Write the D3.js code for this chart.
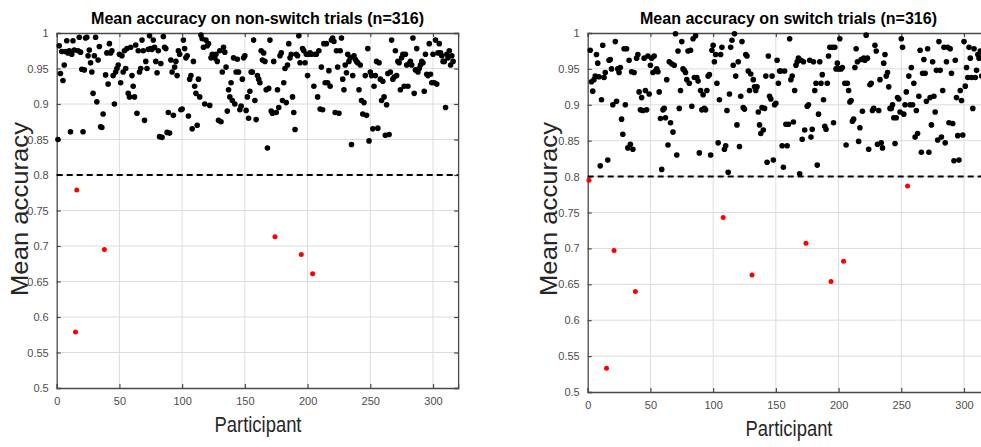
<!DOCTYPE html>
<html>
<head>
<meta charset="utf-8">
<script src="https://cdn.jsdelivr.net/npm/d3@7"></script>
<style>
  body { margin: 0; background: #fff; }
  svg { display: block; font-family: "Liberation Sans", Arial, sans-serif; }
</style>
</head>
<body>
<svg id="chart" width="981" height="447"></svg>
<script>
// mean accuracy per participant (index 1..316)
var nonSwitchAcc = [
  0.850, 0.982, 0.943, 0.974, 0.933, 0.955, 0.974, 0.989, 0.972, 0.975,
  0.861, 0.970, 0.989, 0.976, 0.579, 0.779, 0.975, 0.994, 0.973, 0.949,
  0.861, 0.948, 0.993, 0.994, 0.968, 0.976, 0.958, 0.945, 0.915, 0.968,
  0.994, 0.903, 0.962, 0.981, 0.868, 0.867, 0.886, 0.695, 0.941, 0.972,
  0.928, 0.985, 0.972, 0.975, 0.940, 0.900, 0.945, 0.950, 0.955, 0.970,
  0.930, 0.968, 0.945, 0.975, 0.950, 0.978, 0.915, 0.910, 0.980, 0.940,
  0.925, 0.910, 0.983, 0.887, 0.975, 0.945, 0.950, 0.990, 0.975, 0.877,
  0.960, 0.950, 0.977, 0.996, 0.978, 0.977, 0.990, 0.980, 0.960, 0.944,
  0.975, 0.854, 0.957, 0.853, 0.995, 0.980, 0.978, 0.860, 0.888, 0.859,
  0.962, 0.945, 0.884, 0.952, 0.960, 0.940, 0.975, 0.970, 0.892, 0.893,
  0.990, 0.978, 0.965, 0.968, 0.883, 0.935, 0.940, 0.865, 0.960, 0.925,
  0.915, 0.870, 0.935, 0.910, 0.997, 0.992, 0.980, 0.900, 0.990, 0.982,
  0.985, 0.898, 0.965, 0.970, 0.968, 0.965, 0.970, 0.960, 0.877, 0.975,
  0.875, 0.945, 0.980, 0.973, 0.952, 0.890, 0.920, 0.910, 0.930, 0.905,
  0.965, 0.900, 0.945, 0.963, 0.945, 0.892, 0.897, 0.935, 0.965, 0.968,
  0.891, 0.910, 0.880, 0.918, 0.945, 0.945, 0.990, 0.905, 0.878, 0.940,
  0.935, 0.930, 0.975, 0.962, 0.972, 0.960, 0.920, 0.838, 0.922, 0.990,
  0.890, 0.887, 0.960, 0.713, 0.888, 0.920, 0.895, 0.968, 0.972, 0.905,
  0.930, 0.950, 0.902, 0.955, 0.985, 0.965, 0.970, 0.910, 0.888, 0.864,
  0.970, 0.968, 0.996, 0.958, 0.688, 0.978, 0.975, 0.958, 0.970, 0.940,
  0.970, 0.972, 0.970, 0.661, 0.925, 0.970, 0.970, 0.910, 0.975, 0.893,
  0.952, 0.892, 0.985, 0.930, 0.985, 0.930, 0.947, 0.925, 0.990, 0.993,
  0.988, 0.888, 0.975, 0.952, 0.887, 0.975, 0.993, 0.935, 0.920, 0.955,
  0.944, 0.970, 0.960, 0.965, 0.843, 0.940, 0.968, 0.963, 0.960, 0.958,
  0.920, 0.955, 0.905, 0.886, 0.902, 0.940, 0.884, 0.978, 0.848, 0.945,
  0.940, 0.865, 0.925, 0.940, 0.960, 0.866, 0.958, 0.935, 0.905, 0.932,
  0.910, 0.856, 0.899, 0.943, 0.857, 0.945, 0.990, 0.935, 0.938, 0.975,
  0.940, 0.960, 0.958, 0.920, 0.965, 0.970, 0.925, 0.970, 0.955, 0.925,
  0.957, 0.960, 0.955, 0.993, 0.915, 0.948, 0.978, 0.945, 0.950, 0.955,
  0.960, 0.958, 0.918, 0.970, 0.942, 0.940, 0.985, 0.942, 0.930, 0.970,
  0.930, 0.990, 0.928, 0.972, 0.985, 0.972, 0.968, 0.960, 0.960, 0.895,
  0.970, 0.965, 0.975, 0.955, 0.968, 0.960
];

var switchAcc = [
  0.795, 0.976, 0.932, 0.919, 0.935, 0.940, 0.970, 0.958, 0.939, 0.815,
  0.907, 0.983, 0.938, 0.945, 0.533, 0.823, 0.962, 0.963, 0.950, 0.900,
  0.697, 0.988, 0.905, 0.950, 0.945, 0.952, 0.880, 0.859, 0.978, 0.900,
  0.978, 0.840, 0.962, 0.845, 0.946, 0.838, 0.945, 0.640, 0.965, 0.970,
  0.918, 0.893, 0.910, 0.892, 0.965, 0.920, 0.893, 0.968, 0.915, 0.955,
  0.965, 0.945, 0.968, 0.947, 0.950, 0.946, 0.918, 0.881, 0.810, 0.893,
  0.895, 0.882, 0.935, 0.844, 0.960, 0.875, 0.957, 0.862, 0.955, 0.999,
  0.830, 0.975, 0.895, 0.920, 0.988, 0.950, 0.948, 0.945, 0.935, 0.975,
  0.930, 0.976, 0.898, 0.992, 0.938, 0.996, 0.938, 0.933, 0.833, 0.920,
  0.893, 0.914, 0.895, 0.893, 0.920, 0.940, 0.942, 0.830, 0.976, 0.983,
  0.960, 0.970, 0.930, 0.847, 0.907, 0.970, 0.980, 0.743, 0.838, 0.843,
  0.892, 0.806, 0.915, 0.980, 0.990, 0.955, 0.999, 0.940, 0.872, 0.960,
  0.842, 0.912, 0.988, 0.896, 0.894, 0.970, 0.968, 0.947, 0.920, 0.943,
  0.663, 0.935, 0.925, 0.920, 0.925, 0.890, 0.872, 0.860, 0.896, 0.865,
  0.895, 0.940, 0.820, 0.968, 0.912, 0.908, 0.940, 0.823, 0.900, 0.902,
  0.962, 0.930, 0.947, 0.947, 0.843, 0.813, 0.947, 0.873, 0.843, 0.873,
  0.992, 0.935, 0.940, 0.876, 0.920, 0.955, 0.960, 0.965, 0.804, 0.962,
  0.852, 0.960, 0.865, 0.707, 0.898, 0.900, 0.962, 0.855, 0.866, 0.960,
  0.920, 0.930, 0.816, 0.887, 0.960, 0.930, 0.942, 0.907, 0.870, 0.866,
  0.930, 0.968, 0.980, 0.654, 0.980, 0.875, 0.980, 0.950, 0.958, 0.950,
  0.992, 0.950, 0.952, 0.682, 0.930, 0.844, 0.930, 0.920, 0.904, 0.906,
  0.877, 0.880, 0.952, 0.978, 0.960, 0.849, 0.868, 0.963, 0.891, 0.965,
  0.962, 0.997, 0.965, 0.838, 0.928, 0.930, 0.892, 0.895, 0.983, 0.975,
  0.845, 0.892, 0.935, 0.847, 0.840, 0.958, 0.970, 0.940, 0.945, 0.925,
  0.895, 0.895, 0.900, 0.882, 0.846, 0.882, 0.910, 0.908, 0.890, 0.992,
  0.980, 0.887, 0.900, 0.918, 0.787, 0.940, 0.900, 0.952, 0.900, 0.930,
  0.855, 0.892, 0.860, 0.912, 0.976, 0.834, 0.944, 0.963, 0.944, 0.905,
  0.978, 0.834, 0.910, 0.872, 0.960, 0.912, 0.890, 0.948, 0.851, 0.988,
  0.948, 0.855, 0.920, 0.980, 0.847, 0.960, 0.980, 0.875, 0.978, 0.944,
  0.874, 0.822, 0.962, 0.910, 0.857, 0.823, 0.920, 0.906, 0.858, 0.988,
  0.926, 0.952, 0.938, 0.980, 0.965, 0.938, 0.895, 0.978, 0.938, 0.948,
  0.970, 0.965, 0.975, 0.940, 0.968, 0.960
];

var xTickValues = [0, 50, 100, 150, 200, 250, 300];
var yTickValues = [0.5, 0.55, 0.6, 0.65, 0.7, 0.75, 0.8, 0.85, 0.9, 0.95, 1];
var yTickLabels = ["0.5", "0.55", "0.6", "0.65", "0.7", "0.75", "0.8", "0.85", "0.9", "0.95", "1"];
var cutoff = 0.8;

var svg = d3.select("#chart");

function drawPanel(opts) {
    var x = d3.scaleLinear().domain([0, 320]).range([opts.left, opts.left + 401.4]);
    var y = d3.scaleLinear().domain([0.5, 1]).range([opts.bottom, opts.top]);

    var g = svg.append("g");

    // grid
    g.append("g").selectAll("line")
        .data(xTickValues.slice(1))
        .enter().append("line")
        .attr("x1", d => x(d)).attr("x2", d => x(d))
        .attr("y1", opts.top).attr("y2", opts.bottom)
        .attr("stroke", "#dcdcdc").attr("stroke-width", 1);

    g.append("g").selectAll("line")
        .data(yTickValues.slice(1, -1))
        .enter().append("line")
        .attr("x1", x(0)).attr("x2", x(320))
        .attr("y1", d => y(d)).attr("y2", d => y(d))
        .attr("stroke", "#dcdcdc").attr("stroke-width", 1);

    // axes (MATLAB style: box, ticks pointing in)
    var xAxis = d3.axisBottom(x).tickValues(xTickValues).tickSize(-4).tickPadding(9);
    var xAxisTop = d3.axisTop(x).tickValues(xTickValues).tickSize(-4).tickFormat("");
    var yAxis = d3.axisLeft(y).tickValues(yTickValues).tickSize(-4).tickPadding(8)
        .tickFormat(function (d, i) { return yTickLabels[i]; });
    var yAxisRight = d3.axisRight(y).tickValues(yTickValues).tickSize(-4).tickFormat("");

    [
        [xAxis, "translate(0," + opts.bottom + ")"],
        [xAxisTop, "translate(0," + opts.top + ")"],
        [yAxis, "translate(" + opts.left + ",0)"],
        [yAxisRight, "translate(" + x(320) + ",0)"]
    ].forEach(function (a) {
        var ax = g.append("g").attr("transform", a[1]).call(a[0]);
        ax.select(".domain").attr("stroke", "#4a4a4a").attr("stroke-width", 1.3);
        ax.selectAll(".tick line").attr("stroke", "#4a4a4a").attr("stroke-width", 1.2);
        ax.selectAll("text")
            .attr("fill", "#4d4d4d")
            .attr("font-size", "11px")
            .attr("font-family", "Liberation Sans, Arial, sans-serif");
    });

    // cutoff line
    g.append("line")
        .attr("x1", x(0)).attr("x2", x(320))
        .attr("y1", y(cutoff)).attr("y2", y(cutoff))
        .attr("stroke", "#000").attr("stroke-width", 2)
        .attr("stroke-dasharray", "6,4");

    // points
    g.append("g").selectAll("circle")
        .data(opts.values)
        .enter().append("circle")
        .attr("cx", (d, i) => x(i + 1))
        .attr("cy", d => y(d))
        .attr("r", d => d < cutoff ? 2.5 : 2.8)
        .attr("fill", d => d < cutoff ? "#ff0000" : "#000");

    // title + labels
    g.append("text")
        .attr("x", opts.titleX).attr("y", 24)
        .attr("font-size", "17px").attr("font-weight", "bold")
        .attr("textLength", opts.titleLen).attr("lengthAdjust", "spacingAndGlyphs")
        .text(opts.title);

    g.append("text")
        .attr("text-anchor", "middle")
        .attr("x", opts.xLabelX).attr("y", opts.xLabelY)
        .attr("font-size", "22px").attr("fill", "#262626")
        .attr("textLength", 87).attr("lengthAdjust", "spacingAndGlyphs")
        .text("Participant");

    g.append("text")
        .attr("text-anchor", "middle")
        .attr("transform", "translate(" + opts.yLabelX + ",209) rotate(-90)")
        .attr("font-size", "23px").attr("fill", "#262626")
        .attr("textLength", 174).attr("lengthAdjust", "spacingAndGlyphs")
        .text("Mean accuracy");
}

drawPanel({
    values: nonSwitchAcc,
    title: "Mean accuracy on non-switch trials (n=316)",
    left: 56.7, top: 33, bottom: 388,
    titleX: 91, titleLen: 333,
    xLabelX: 258, xLabelY: 432,
    yLabelX: 28
});

drawPanel({
    values: switchAcc,
    title: "Mean accuracy on switch trials (n=316)",
    left: 587.7, top: 33, bottom: 392,
    titleX: 640, titleLen: 297,
    xLabelX: 789, xLabelY: 436,
    yLabelX: 557
});
</script>
</body>
</html>
